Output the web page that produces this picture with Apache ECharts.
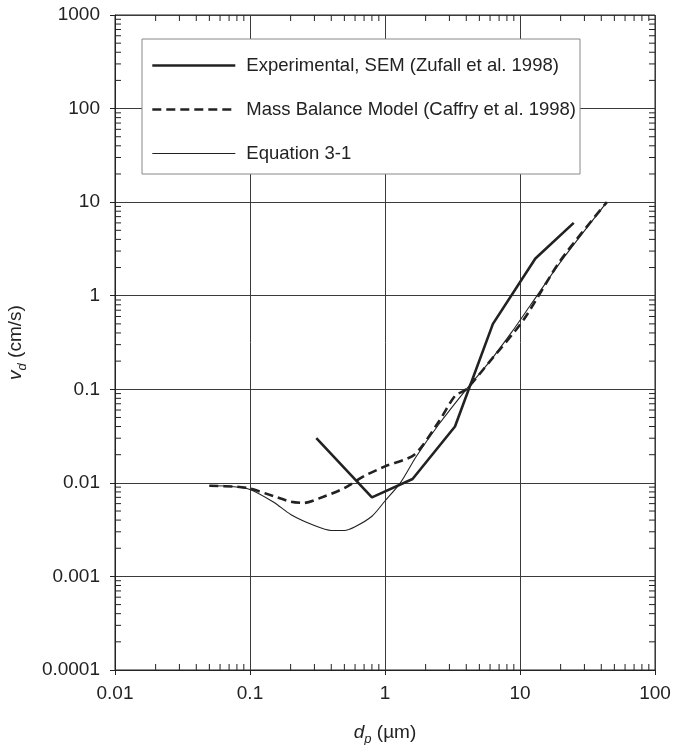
<!DOCTYPE html>
<html>
<head>
<meta charset="utf-8">
<script src="https://cdn.jsdelivr.net/npm/echarts@6/dist/echarts.min.js"></script>
<style>html,body{margin:0;padding:0;background:#fff}#c{width:680px;height:745px}</style>
</head>
<body>
<div id="c"></div>
<script>
// ---- data ----
var xTickLabels = ['0.01', '0.1', '1', '10', '100'];
var yTickLabels = ['0.0001', '0.001', '0.01', '0.1', '1', '10', '100', '1000'];
var seriesNames = ['Experimental, SEM (Zufall et al. 1998)', 'Mass Balance Model (Caffry et al. 1998)', 'Equation 3-1'];

var expX = [0.31, 0.8, 1.6, 3.3, 6.3, 13, 25];
var expY = [0.030, 0.0070, 0.011, 0.040, 0.50, 2.5, 6.0];

var massX = [0.05, 0.08, 0.1, 0.15, 0.2, 0.25, 0.35, 0.5, 0.7, 1.0, 1.65, 2.5, 3.3, 4.0, 6.0, 10.6, 20, 44];
var massY = [0.0093, 0.0091, 0.0087, 0.0072, 0.0063, 0.0061, 0.0071, 0.0088, 0.0118, 0.015, 0.020, 0.045, 0.085, 0.10, 0.20, 0.55, 2.4, 10];

var eqX = [0.05, 0.07, 0.1, 0.15, 0.2, 0.3, 0.4, 0.5, 0.6, 0.8, 1.0, 1.3, 1.7, 2.5, 4.0, 6.0, 8.7, 12, 20, 44];
var eqY = [0.0093, 0.0092, 0.0085, 0.0062, 0.0046, 0.0035, 0.0031, 0.0031, 0.0034, 0.0044, 0.0064, 0.010, 0.019, 0.042, 0.10, 0.20, 0.41, 0.80, 2.3, 10];

var xMin = 0.01, xMax = 100, yMin = 0.0001, yMax = 1000;
// ---- build ----
function pairs(xs, ys) { return xs.map(function (x, i) { return [x, ys[i]]; }); }
function minorVals(lo, hi) {
  var out = [];
  for (var e = Math.round(Math.log10(lo)); e < Math.round(Math.log10(hi)); e++) {
    for (var m = 2; m <= 9; m++) out.push(m * Math.pow(10, e));
  }
  return out;
}
var xMinorData = [];
minorVals(xMin, xMax).forEach(function (v) { xMinorData.push([v, yMin, 0]); xMinorData.push([v, yMax, 1]); });
var yMinorData = [];
minorVals(yMin, yMax).forEach(function (v) { yMinorData.push([xMin, v, 2]); yMinorData.push([xMax, v, 3]); });

var FONT = '"Liberation Sans", Arial, Helvetica, sans-serif';
var INK = '#222';
var TL = 6;
var W_THICK = 2.6, W_THIN = 1.1, DASH = [9, 5];

function tickRender(params, api) {
  var p = api.coord([api.value(0), api.value(1)]);
  var side = api.value(2);
  var x2 = p[0], y2 = p[1];
  if (side === 0) y2 = p[1] - TL;
  else if (side === 1) y2 = p[1] + TL;
  else if (side === 2) x2 = p[0] + TL;
  else x2 = p[0] - TL;
  return { type: 'line', shape: { x1: p[0], y1: p[1], x2: x2, y2: y2 }, style: { stroke: INK, lineWidth: 1 } };
}

var chart = echarts.init(document.getElementById('c'), null, { renderer: 'canvas' });
chart.setOption({
  animation: false,
  backgroundColor: '#fff',
  grid: { left: 115, right: 25, top: 15, bottom: 75, show: true, borderColor: INK, borderWidth: 1,
    backgroundColor: 'transparent', containLabel: false, outerBoundsMode: 'none' },
  xAxis: {
    type: 'log', logBase: 10, min: xMin, max: xMax,
    axisLine: { show: true, lineStyle: { color: INK, width: 1 } },
    axisTick: { show: true, inside: false, length: 5, lineStyle: { color: INK } },
    splitLine: { show: true, lineStyle: { color: '#3a3a3a', width: 1 } },
    axisLabel: { color: INK, fontFamily: FONT, fontSize: 19, margin: 14,
      formatter: function (v) { return xTickLabels[Math.round(Math.log10(v) - Math.log10(xMin))]; } },
    name: '{i|d}{s|p} (µm)', nameLocation: 'middle', nameGap: 50,
    nameTextStyle: { color: INK, fontFamily: FONT, fontSize: 19,
      rich: { i: { fontStyle: 'italic', fontFamily: FONT, fontSize: 19, color: INK, lineHeight: 26, verticalAlign: 'middle' },
              s: { fontStyle: 'italic', fontFamily: FONT, fontSize: 13, color: INK, lineHeight: 26, verticalAlign: 'bottom' } } }
  },
  yAxis: {
    type: 'log', logBase: 10, min: yMin, max: yMax,
    axisLine: { show: true, lineStyle: { color: INK, width: 1 } },
    axisTick: { show: true, inside: false, length: 5, lineStyle: { color: INK } },
    splitLine: { show: true, lineStyle: { color: '#3a3a3a', width: 1 } },
    axisLabel: { color: INK, fontFamily: FONT, fontSize: 19, margin: 15,
      formatter: function (v) { return yTickLabels[Math.round(Math.log10(v) - Math.log10(yMin))]; } },
    name: '{i|v}{s|d} (cm/s)', nameLocation: 'middle', nameGap: 86, nameRotate: 90,
    nameTextStyle: { color: INK, fontFamily: FONT, fontSize: 19,
      rich: { i: { fontStyle: 'italic', fontFamily: FONT, fontSize: 19, color: INK, lineHeight: 26, verticalAlign: 'middle' },
              s: { fontStyle: 'italic', fontFamily: FONT, fontSize: 13, color: INK, lineHeight: 26, verticalAlign: 'bottom' } } }
  },
  legend: {
    orient: 'vertical', left: 142, top: 39,
    padding: [17, 4, 11, 9],
    itemGap: 25, itemWidth: 83, itemHeight: 14,
    backgroundColor: '#fff', borderColor: '#888', borderWidth: 1,
    itemStyle: { opacity: 0 },
    textStyle: { color: INK, fontFamily: FONT, fontSize: 18.5, padding: [0, 0, 0, 6] },
    data: [
      { name: seriesNames[0], lineStyle: { width: W_THICK, color: INK } },
      { name: seriesNames[1], lineStyle: { width: W_THICK, color: INK, type: DASH } },
      { name: seriesNames[2], lineStyle: { width: W_THIN, color: INK } }
    ]
  },
  series: [
    { name: seriesNames[0], type: 'line', data: pairs(expX, expY), symbol: 'none', smooth: false,
      lineStyle: { color: INK, width: W_THICK }, itemStyle: { color: INK }, z: 5 },
    { name: seriesNames[1], type: 'line', data: pairs(massX, massY), symbol: 'none', smooth: 0.25,
      lineStyle: { color: INK, width: W_THICK, type: DASH }, itemStyle: { color: INK }, z: 4 },
    { name: seriesNames[2], type: 'line', data: pairs(eqX, eqY), symbol: 'none', smooth: 0.25,
      lineStyle: { color: INK, width: W_THIN }, itemStyle: { color: INK }, z: 3 },
    { type: 'custom', data: xMinorData, renderItem: tickRender, silent: true, clip: false, z: 6,
      encode: { x: 0, y: 1 } },
    { type: 'custom', data: yMinorData, renderItem: tickRender, silent: true, clip: false, z: 6,
      encode: { x: 0, y: 1 } }
  ]
});
</script>
</body>
</html>
